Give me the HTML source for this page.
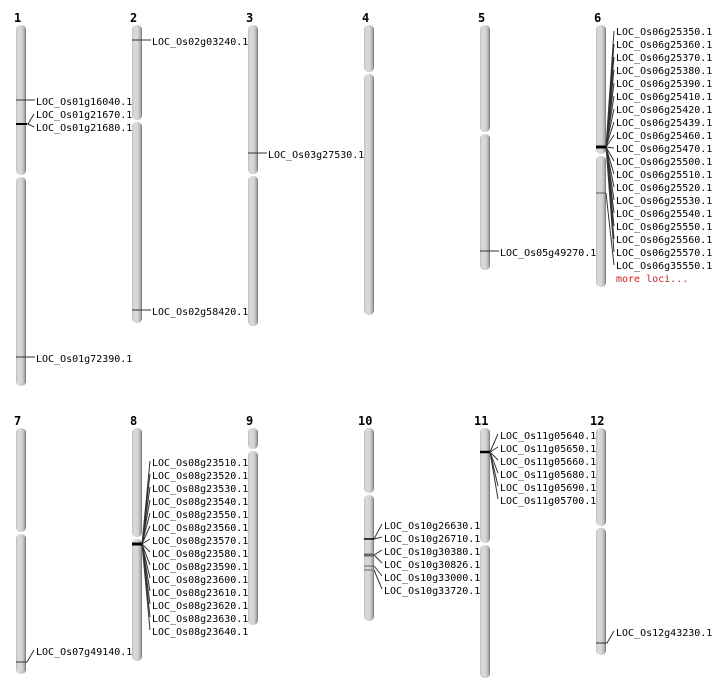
<!DOCTYPE html>
<html><head><meta charset="utf-8"><style>
html,body{margin:0;padding:0;background:#fff;width:712px;height:700px;overflow:hidden}
svg text{font-family:"DejaVu Sans Mono","Liberation Mono",monospace;font-size:10px;fill:#000}
svg text.n{font-weight:bold;font-size:12px}
svg text.r{fill:#d02020}
</style></head><body>
<svg width="712" height="700" xmlns="http://www.w3.org/2000/svg">
<defs><linearGradient id="g" x1="0" x2="1" y1="0" y2="0">
<stop offset="0" stop-color="#bcbcbc"/><stop offset="0.2" stop-color="#dadada"/><stop offset="0.6" stop-color="#d4d4d4"/><stop offset="0.85" stop-color="#acacac"/><stop offset="1" stop-color="#707070"/></linearGradient></defs>
<g fill="url(#g)">
<rect x="16" y="25" width="10" height="150" rx="4.5"/><rect x="16" y="177" width="10" height="209" rx="4.5"/>
<rect x="132" y="25" width="10" height="95" rx="4.5"/><rect x="132" y="122" width="10" height="201" rx="4.5"/>
<rect x="248" y="25" width="10" height="149" rx="4.5"/><rect x="248" y="176" width="10" height="150" rx="4.5"/>
<rect x="364" y="25" width="10" height="47" rx="4.5"/><rect x="364" y="74" width="10" height="241" rx="4.5"/>
<rect x="480" y="25" width="10" height="107" rx="4.5"/><rect x="480" y="134" width="10" height="136" rx="4.5"/>
<rect x="596" y="25" width="10" height="129" rx="4.5"/><rect x="596" y="156" width="10" height="131" rx="4.5"/>
<rect x="16" y="428" width="10" height="104" rx="4.5"/><rect x="16" y="534" width="10" height="140" rx="4.5"/>
<rect x="132" y="428" width="10" height="109" rx="4.5"/><rect x="132" y="539" width="10" height="122" rx="4.5"/>
<rect x="248" y="428" width="10" height="21" rx="4.5"/><rect x="248" y="451" width="10" height="174" rx="4.5"/>
<rect x="364" y="428" width="10" height="65" rx="4.5"/><rect x="364" y="495" width="10" height="126" rx="4.5"/>
<rect x="480" y="428" width="10" height="115" rx="4.5"/><rect x="480" y="545" width="10" height="133" rx="4.5"/>
<rect x="596" y="428" width="10" height="98" rx="4.5"/><rect x="596" y="528" width="10" height="127" rx="4.5"/>
</g>
<g>
<text class="n" x="14" y="22">1</text><text class="n" x="130" y="22">2</text><text class="n" x="246" y="22">3</text>
<text class="n" x="362" y="22">4</text><text class="n" x="478" y="22">5</text><text class="n" x="594" y="22">6</text>
<text class="n" x="14" y="425">7</text><text class="n" x="130" y="425">8</text><text class="n" x="246" y="425">9</text>
<text class="n" x="358" y="425">10</text><text class="n" x="474" y="425">11</text><text class="n" x="590" y="425">12</text>
</g>
<g stroke="#333" stroke-width="1" fill="none">
<path d="M16 100H35"/><path d="M16 124H28L34 114"/><path d="M28 124L34 127"/><path d="M16 357H35"/>
<path d="M132 40H151"/><path d="M132 310H151"/>
<path d="M248 153H267"/>
<path d="M480 251H499"/>
<path d="M596 643H607L614 631"/>
<path d="M16 662H27L34 650"/>
<path d="M364 539H374L382 524M374 539L382 537"/>
<path d="M374 555L382 550M374 555L382 563"/>
<path d="M374 566L382 576M374 570L382 589"/>
<path d="M490 452L498 434M490 452L498 447M490 452L498 460M490 452L498 473M490 452L498 486M490 452L498 499"/>
<path d="M142 544L150 461M142 544L150 474M142 544L150 487M142 544L150 500M142 544L150 513M142 544L150 526M142 544L150 539M142 544L150 552M142 544L150 565M142 544L150 578M142 544L150 591M142 544L150 604M142 544L150 617M142 544L150 630"/>
<path d="M606 147L614 31M606 147L614 44M606 147L614 57M606 147L614 70M606 147L614 83M606 147L614 96M606 147L614 109M606 147L614 122M606 147L614 135M606 147L614 148M606 147L614 161M606 147L614 174M606 147L614 187M606 147L614 200M606 147L614 213M606 147L614 226M606 147L614 239M606 147L614 252M606 193L614 265"/>
</g>
<g stroke="#000">
<path d="M16 124H27" stroke-width="2"/>
<path d="M596 147H606" stroke-width="3"/><path d="M596 193H606" stroke="#555"/>
<path d="M132 544H142" stroke-width="3"/>
<path d="M364 539H374" stroke-width="1.5"/>
<path d="M364 555H374" stroke="#666" stroke-width="3"/>
<path d="M364 566H374M364 570H374" stroke="#666"/>
<path d="M480 452H490" stroke-width="2.5"/>
</g>
<g transform="translate(0,1)">
<text x="36" y="104">LOC_Os01g16040.1</text><text x="36" y="117">LOC_Os01g21670.1</text><text x="36" y="130">LOC_Os01g21680.1</text><text x="36" y="361">LOC_Os01g72390.1</text>
<text x="152" y="44">LOC_Os02g03240.1</text><text x="152" y="314">LOC_Os02g58420.1</text>
<text x="268" y="157">LOC_Os03g27530.1</text>
<text x="500" y="255">LOC_Os05g49270.1</text>
<text x="616" y="34">LOC_Os06g25350.1</text><text x="616" y="47">LOC_Os06g25360.1</text><text x="616" y="60">LOC_Os06g25370.1</text><text x="616" y="73">LOC_Os06g25380.1</text><text x="616" y="86">LOC_Os06g25390.1</text><text x="616" y="99">LOC_Os06g25410.1</text><text x="616" y="112">LOC_Os06g25420.1</text><text x="616" y="125">LOC_Os06g25439.1</text><text x="616" y="138">LOC_Os06g25460.1</text><text x="616" y="151">LOC_Os06g25470.1</text><text x="616" y="164">LOC_Os06g25500.1</text><text x="616" y="177">LOC_Os06g25510.1</text><text x="616" y="190">LOC_Os06g25520.1</text><text x="616" y="203">LOC_Os06g25530.1</text><text x="616" y="216">LOC_Os06g25540.1</text><text x="616" y="229">LOC_Os06g25550.1</text><text x="616" y="242">LOC_Os06g25560.1</text><text x="616" y="255">LOC_Os06g25570.1</text><text x="616" y="268">LOC_Os06g35550.1</text><text class="r" x="616" y="281">more loci...</text>
<text x="36" y="654">LOC_Os07g49140.1</text>
<text x="152" y="465">LOC_Os08g23510.1</text><text x="152" y="478">LOC_Os08g23520.1</text><text x="152" y="491">LOC_Os08g23530.1</text><text x="152" y="504">LOC_Os08g23540.1</text><text x="152" y="517">LOC_Os08g23550.1</text><text x="152" y="530">LOC_Os08g23560.1</text><text x="152" y="543">LOC_Os08g23570.1</text><text x="152" y="556">LOC_Os08g23580.1</text><text x="152" y="569">LOC_Os08g23590.1</text><text x="152" y="582">LOC_Os08g23600.1</text><text x="152" y="595">LOC_Os08g23610.1</text><text x="152" y="608">LOC_Os08g23620.1</text><text x="152" y="621">LOC_Os08g23630.1</text><text x="152" y="634">LOC_Os08g23640.1</text>
<text x="384" y="528">LOC_Os10g26630.1</text><text x="384" y="541">LOC_Os10g26710.1</text><text x="384" y="554">LOC_Os10g30380.1</text><text x="384" y="567">LOC_Os10g30826.1</text><text x="384" y="580">LOC_Os10g33000.1</text><text x="384" y="593">LOC_Os10g33720.1</text>
<text x="500" y="438">LOC_Os11g05640.1</text><text x="500" y="451">LOC_Os11g05650.1</text><text x="500" y="464">LOC_Os11g05660.1</text><text x="500" y="477">LOC_Os11g05680.1</text><text x="500" y="490">LOC_Os11g05690.1</text><text x="500" y="503">LOC_Os11g05700.1</text>
<text x="616" y="635">LOC_Os12g43230.1</text>
</g>
</svg>
</body></html>
